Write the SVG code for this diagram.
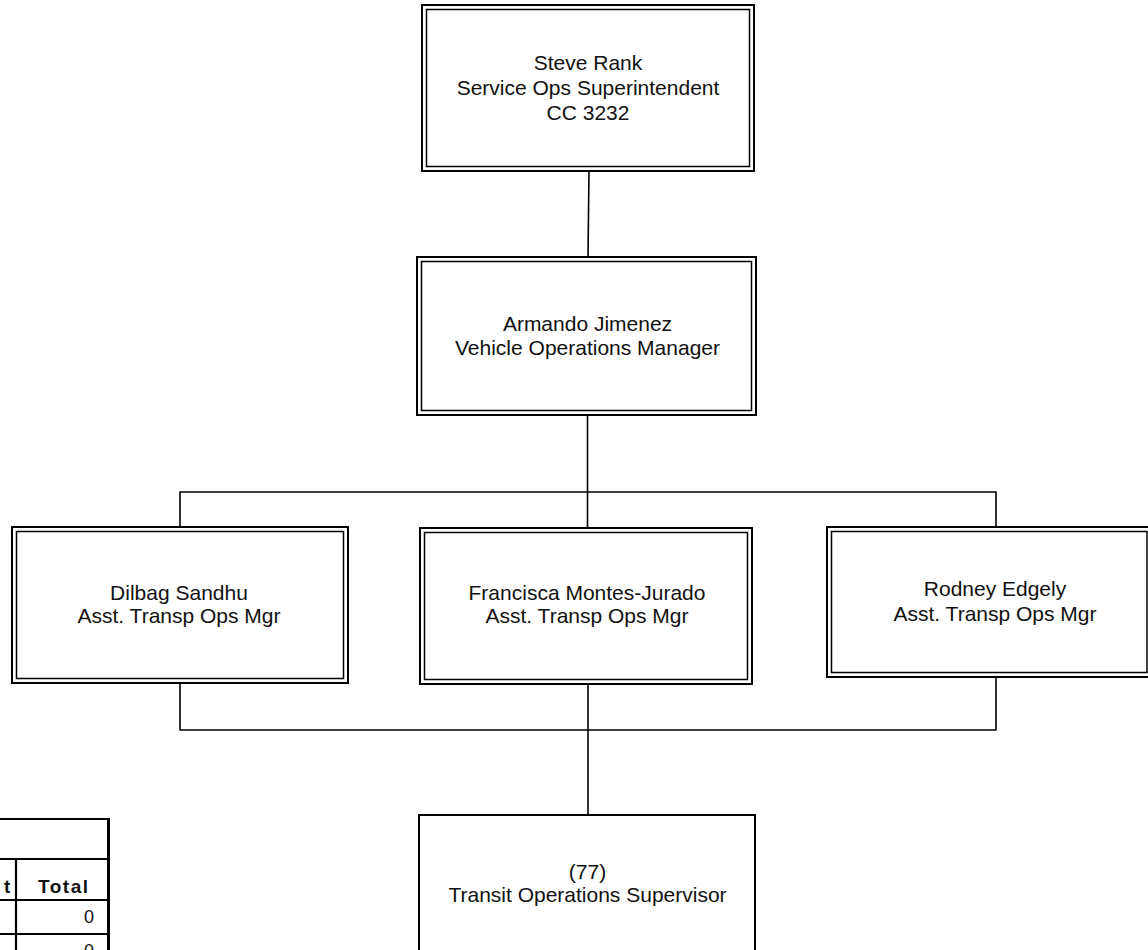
<svg xmlns="http://www.w3.org/2000/svg" width="1148" height="950" viewBox="0 0 1148 950">
<style>
.o{fill:none;stroke:#000;stroke-width:2}
.i{fill:none;stroke:#000;stroke-width:1.5}
.t{font-family:"Liberation Sans",Arial,sans-serif;font-size:21px;fill:#111;text-anchor:middle}
.c{stroke:#000;stroke-width:1.6;fill:none}
.tb{stroke:#000;stroke-width:2.2;fill:none}
.h{font-family:"Liberation Sans",Arial,sans-serif;font-size:19px;font-weight:bold;letter-spacing:1.5px;fill:#111}
.n{font-family:"Liberation Sans",Arial,sans-serif;font-size:18px;fill:#111;text-anchor:end}
</style>
<rect width="1148" height="950" fill="#fff"/>
<g id="connectors">
<line class="c" x1="589" y1="171" x2="588" y2="257"/>
<line class="c" x1="587.5" y1="415" x2="587.5" y2="527"/>
<polyline class="c" points="180,527 180,492 996,492 996,527"/>
<polyline class="c" points="180,683 180,730 996,730 996,677"/>
<line class="c" x1="588" y1="683" x2="588" y2="815"/>
</g>
<g id="steve">
<rect class="o" x="422" y="5" width="332" height="166"/>
<rect class="i" x="426.5" y="9.5" width="323" height="157"/>
<text class="t" x="588" y="70">Steve Rank</text>
<text class="t" x="588" y="95">Service Ops Superintendent</text>
<text class="t" x="588" y="120">CC 3232</text>
</g>
<g id="armando">
<rect class="o" x="417" y="257" width="339" height="158"/>
<rect class="i" x="421.5" y="261.5" width="330" height="149"/>
<text class="t" x="587.5" y="331">Armando Jimenez</text>
<text class="t" x="587.5" y="355">Vehicle Operations Manager</text>
</g>
<g id="dilbag">
<rect class="o" x="12" y="527" width="336" height="156"/>
<rect class="i" x="16.5" y="531.5" width="327" height="147"/>
<text class="t" x="179" y="600">Dilbag Sandhu</text>
<text class="t" x="179" y="623">Asst. Transp Ops Mgr</text>
</g>
<g id="francisca">
<rect class="o" x="420" y="528" width="332" height="156"/>
<rect class="i" x="424.5" y="532.5" width="323" height="147"/>
<text class="t" x="587" y="600">Francisca Montes-Jurado</text>
<text class="t" x="587" y="623">Asst. Transp Ops Mgr</text>
</g>
<g id="rodney">
<rect class="o" x="827" y="527" width="324" height="150"/>
<rect class="i" x="831.5" y="531.5" width="315.5" height="141"/>
<text class="t" x="995" y="596">Rodney Edgely</text>
<text class="t" x="995" y="621">Asst. Transp Ops Mgr</text>
</g>
<g id="transit">
<rect class="o" x="419" y="815" width="336" height="150"/>
<text class="t" x="587.5" y="879">(77)</text>
<text class="t" x="587.5" y="902">Transit Operations Supervisor</text>
</g>
<g id="table">
<line class="tb" x1="0" y1="819" x2="109" y2="819"/>
<line x1="108.5" y1="818" x2="108.5" y2="950" stroke="#000" stroke-width="3"/>
<line class="tb" x1="0" y1="859" x2="109" y2="859"/>
<line class="tb" x1="16" y1="859" x2="16" y2="950"/>
<line class="tb" x1="0" y1="900" x2="109" y2="900"/>
<line class="tb" x1="0" y1="934" x2="109" y2="934"/>
<text class="h" x="4" y="893">t</text>
<text class="h" x="38" y="893">Total</text>
<text class="n" x="94" y="923">0</text>
<text class="n" x="94" y="957">0</text>
</g>
</svg>
